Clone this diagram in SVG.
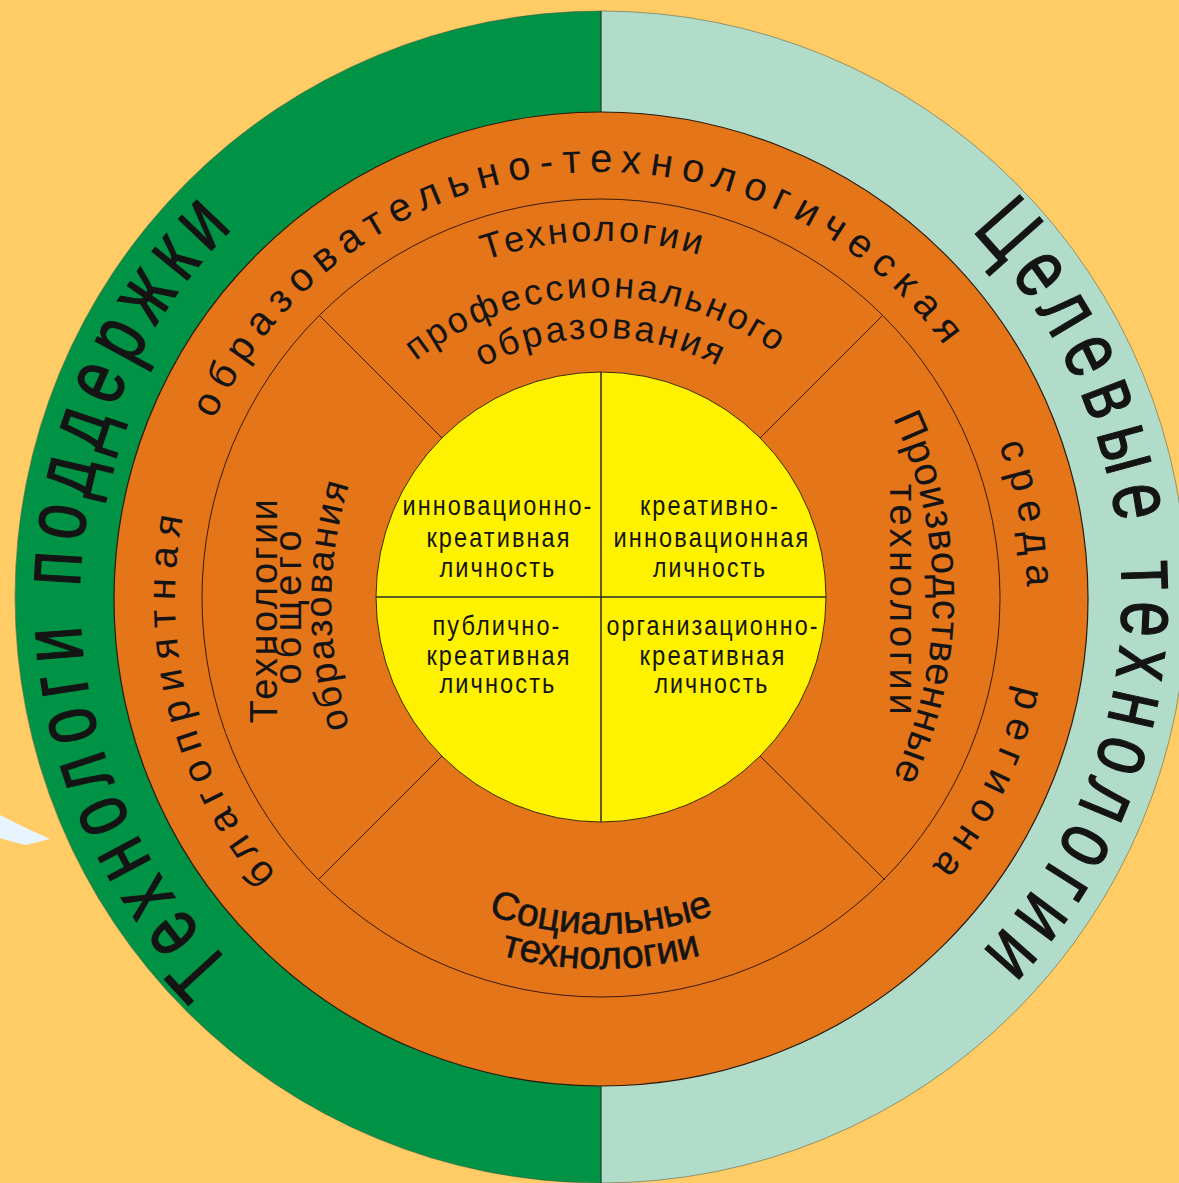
<svg xmlns="http://www.w3.org/2000/svg" xmlns:xlink="http://www.w3.org/1999/xlink" width="1179" height="1183" viewBox="0 0 1179 1183">
<defs>
<style>
.t{font-family:"Liberation Sans",Arial,sans-serif;fill:#141414}
.big{font-family:"Liberation Sans",Arial,sans-serif;font-size:86px;letter-spacing:14px;fill:#141414;stroke:#141414;stroke-width:1.3px}
.ring{font-size:40px;letter-spacing:9px}
.sec{font-size:36px;letter-spacing:3px}
.core{font-size:28px;letter-spacing:2.5px}
.soc{stroke:#141414;stroke-width:0.6px}
.div{stroke:#3a1a05;stroke-width:1;fill:none}
</style>
<path id="pBig" d="M 601 1118 A 521 521 0 1 1 601 76 A 521 521 0 1 1 601 1118"/>
<path id="pRing" d="M 601 1024 A 426 426 0 1 1 601 172 A 426 426 0 1 1 601 1024"/>
<path id="pTop1" d="M 245 597 A 356 356 0 0 1 957 597"/>
<path id="pTop2" d="M 301 597 A 300 300 0 0 1 901 597"/>
<path id="pTop3" d="M 342 597 A 259 259 0 0 1 860 597"/>
<path id="pBot1" d="M 264 597 A 337 337 0 0 0 938 597"/>
<path id="pBot2" d="M 229 597 A 372 372 0 0 0 973 597"/>
<path id="pLeft3" d="M 352 735 A 418 418 0 0 1 352 475"/>
<path id="pRight1" d="M 834.7 328 A 420 420 0 0 1 834.7 868"/>
</defs>
<rect width="1179" height="1183" fill="#FFCC66"/>
<path id="sliver" d="M 0 815 Q 25 828 50 839 L 26 845 Q 12 842 0 838 Z" fill="#E8F5FF"/>

<g id="outer-ring">
<path d="M 601 11 A 586 586 0 0 0 601 1183 Z" fill="#009245"/>
<path d="M 601 11 A 586 586 0 0 1 601 1183 Z" fill="#B2DCCA"/>
<circle cx="601" cy="597" r="586" fill="none" stroke="#3a4a3a" stroke-width="0.8" stroke-opacity="0.6"/>
<line x1="601" y1="11" x2="601" y2="1183" stroke="#1f3d2a" stroke-width="1.2"/>
<text class="big"><textPath href="#pBig" xlink:href="#pBig" startOffset="823" text-anchor="middle" textLength="830" lengthAdjust="spacingAndGlyphs">Технологи поддержки</textPath></text>
<text class="big"><textPath href="#pBig" xlink:href="#pBig" startOffset="2452.4" text-anchor="middle" textLength="808" lengthAdjust="spacingAndGlyphs">Целевые технологии</textPath></text>
</g>

<g id="orange-ring">
<circle cx="601" cy="599" r="487" fill="#E57519" stroke="#2a1a0a" stroke-width="1.2"/>
<circle cx="601" cy="598" r="399" class="div"/>
<text class="t ring"><textPath href="#pRing" xlink:href="#pRing" startOffset="563.6" text-anchor="middle">благоприятная</textPath></text>
<text class="t ring"><textPath href="#pRing" xlink:href="#pRing" startOffset="1299.6" text-anchor="middle">образовательно-технологическая</textPath></text>
<text class="t ring"><textPath href="#pRing" xlink:href="#pRing" startOffset="1927.5" text-anchor="middle">среда</textPath></text>
<text class="t ring"><textPath href="#pRing" xlink:href="#pRing" startOffset="2200.4" text-anchor="middle">региона</textPath></text>
</g>

<g id="connectors">
<line x1="442" y1="438" x2="319" y2="315" class="div"/>
<line x1="760" y1="438" x2="883" y2="315" class="div"/>
<line x1="442" y1="756" x2="319" y2="879" class="div"/>
<line x1="760" y1="756" x2="885" y2="880" class="div"/>
</g>

<g id="sector-prof">
<text class="t sec"><textPath href="#pTop1" xlink:href="#pTop1" startOffset="49.3%" text-anchor="middle">Технологии</textPath></text>
<text class="t sec"><textPath href="#pTop2" xlink:href="#pTop2" startOffset="49.4%" text-anchor="middle">профессионального</textPath></text>
<text class="t sec"><textPath href="#pTop3" xlink:href="#pTop3" startOffset="50%" text-anchor="middle">образования</textPath></text>
</g>

<g id="sector-general">
<text class="t" font-size="38" letter-spacing="2.5" transform="translate(277,610) rotate(-90)" text-anchor="middle">Технологии</text>
<text class="t" font-size="38" letter-spacing="5" transform="translate(301,605) rotate(-90)" text-anchor="middle">общего</text>
<text class="t" font-size="38" letter-spacing="2"><textPath href="#pLeft3" xlink:href="#pLeft3" startOffset="50%" text-anchor="middle">образования</textPath></text>
</g>

<g id="sector-production">
<text class="t" font-size="40" letter-spacing="1"><textPath href="#pRight1" xlink:href="#pRight1" startOffset="50%" text-anchor="middle">Производственные</textPath></text>
<text class="t" font-size="38" letter-spacing="3.7" transform="translate(890,601) rotate(90)" text-anchor="middle">технологии</text>
</g>

<g id="sector-social">
<text class="t soc" font-size="39"><textPath href="#pBot1" xlink:href="#pBot1" startOffset="50%" text-anchor="middle">Социальные</textPath></text>
<text class="t soc" font-size="39"><textPath href="#pBot2" xlink:href="#pBot2" startOffset="50%" text-anchor="middle">технологии</textPath></text>
</g>

<g id="core">
<circle cx="601" cy="597" r="225" fill="#FFF200" stroke="#3b2a05" stroke-width="1"/>
<line x1="601" y1="372" x2="601" y2="822" stroke="#2a2a2a" stroke-width="1.5"/>
<line x1="376" y1="597" x2="826" y2="597" stroke="#2a2a2a" stroke-width="1.5"/>
<g id="q1" class="t core" text-anchor="middle">
<text x="498" y="515" textLength="191" lengthAdjust="spacingAndGlyphs">инновационно-</text>
<text x="499" y="547" textLength="145" lengthAdjust="spacingAndGlyphs">креативная</text>
<text x="498" y="577" textLength="117" lengthAdjust="spacingAndGlyphs">личность</text>
</g>
<g id="q2" class="t core" text-anchor="middle">
<text x="710" y="515" textLength="140" lengthAdjust="spacingAndGlyphs">креативно-</text>
<text x="712" y="547" textLength="197" lengthAdjust="spacingAndGlyphs">инновационная</text>
<text x="710" y="577" textLength="114" lengthAdjust="spacingAndGlyphs">личность</text>
</g>
<g id="q3" class="t core" text-anchor="middle">
<text x="497" y="635" textLength="129" lengthAdjust="spacingAndGlyphs">публично-</text>
<text x="499" y="665" textLength="145" lengthAdjust="spacingAndGlyphs">креативная</text>
<text x="498" y="693" textLength="117" lengthAdjust="spacingAndGlyphs">личность</text>
</g>
<g id="q4" class="t core" text-anchor="middle">
<text x="713" y="635" textLength="213" lengthAdjust="spacingAndGlyphs">организационно-</text>
<text x="713" y="665" textLength="147" lengthAdjust="spacingAndGlyphs">креативная</text>
<text x="712" y="693" textLength="115" lengthAdjust="spacingAndGlyphs">личность</text>
</g>
</g>
</svg>
